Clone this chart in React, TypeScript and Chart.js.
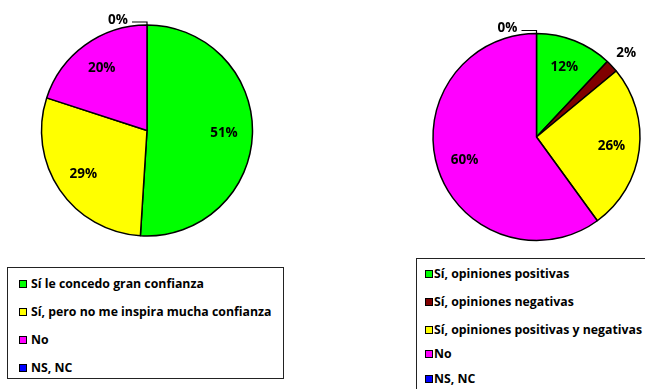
import React, { useEffect, useRef } from "react";
import { Chart, registerables } from "chart.js";

Chart.register(...registerables);

// Pregunta 1: confianza
const trustLabels = [
  "Sí le concedo gran confianza",
  "Sí, pero no me inspira mucha confianza",
  "No",
  "NS, NC",
];
const trustValues = [51, 29, 20, 0];
const trustColors = ["#00FF00", "#FFFF00", "#FF00FF", "#0000FF"];

// Pregunta 2: opiniones
const opinionLabels = [
  "Sí, opiniones positivas",
  "Sí, opiniones negativas",
  "Sí, opiniones positivas y negativas",
  "No",
  "NS, NC",
];
const opinionValues = [12, 2, 26, 60, 0];
const opinionColors = ["#00FF00", "#800000", "#FFFF00", "#FF00FF", "#0000FF"];

const FONT = "'Open Sans', sans-serif";

const sliceLabels = {
  id: "sliceLabels",
  afterDatasetsDraw(chart: any) {
    const ctx = chart.ctx;
    const meta = chart.getDatasetMeta(0);
    const data = chart.data.datasets[0].data as number[];
    ctx.save();
    ctx.font = `bold 13.5px ${FONT}`;
    ctx.fillStyle = "#000";
    ctx.strokeStyle = "#000";
    ctx.lineWidth = 1.2;
    ctx.textAlign = "center";
    ctx.textBaseline = "middle";
    meta.data.forEach((arc: any, i: number) => {
      const { x, y, startAngle, endAngle, outerRadius } = arc.getProps(
        ["x", "y", "startAngle", "endAngle", "outerRadius"],
        true
      );
      const v = data[i];
      const text = `${v}%`;
      if (v === 0) {
        const px = x + Math.cos(startAngle) * outerRadius;
        const py = y + Math.sin(startAngle) * outerRadius;
        ctx.beginPath();
        ctx.moveTo(px, py);
        ctx.lineTo(px, py - 3);
        ctx.lineTo(px - 15, py - 3);
        ctx.stroke();
        ctx.fillText(text, px - 29, py - 5);
      } else {
        const mid = (startAngle + endAngle) / 2;
        const f = v < 5 ? 1.19 : 0.73;
        ctx.fillText(
          text,
          x + Math.cos(mid) * outerRadius * f,
          y + Math.sin(mid) * outerRadius * f
        );
      }
    });
    ctx.restore();
  },
};

type PieProps = {
  labels: string[];
  values: number[];
  colors: string[];
  padding: { left: number; right: number; top: number; bottom: number };
  style: React.CSSProperties;
  width: number;
  height: number;
};

function Pie({ labels, values, colors, padding, style, width, height }: PieProps) {
  const ref = useRef<HTMLCanvasElement | null>(null);
  useEffect(() => {
    if (!ref.current) return;
    const chart = new Chart(ref.current, {
      type: "pie",
      data: {
        labels,
        datasets: [
          {
            data: values,
            backgroundColor: colors,
            borderColor: "#000",
            borderWidth: 1.5,
          },
        ],
      },
      options: {
        responsive: false,
        animation: false,
        layout: { padding },
        plugins: {
          legend: { display: false },
          tooltip: { enabled: false },
        },
      },
      plugins: [sliceLabels],
    });
    return () => chart.destroy();
  }, []);
  return (
    <div style={{ position: "absolute", width, height, ...style }}>
      <canvas ref={ref} width={width} height={height} style={{ width, height }} />
    </div>
  );
}

type LegendProps = {
  labels: string[];
  colors: string[];
  rows: number[];
  box: React.CSSProperties;
  swatchLeft: number;
  textLeft: number;
};

function Legend({ labels, colors, rows, box, swatchLeft, textLeft }: LegendProps) {
  return (
    <div
      style={{
        position: "absolute",
        border: "1px solid #222",
        boxSizing: "border-box",
        background: "#fff",
        ...box,
      }}
    >
      {labels.map((l, i) => (
        <div key={l}>
          <div
            style={{
              position: "absolute",
              left: swatchLeft,
              top: rows[i] - 4,
              width: 8,
              height: 8,
              boxSizing: "border-box",
              border: "1px solid #000",
              background: colors[i],
            }}
          />
          <div
            style={{
              position: "absolute",
              left: textLeft,
              top: rows[i] - 9,
              height: 18,
              lineHeight: "18px",
              whiteSpace: "nowrap",
              font: `bold 12.3px ${FONT}`,
              color: "#000",
            }}
          >
            {l}
          </div>
        </div>
      ))}
    </div>
  );
}

export default function App() {
  return (
    <div
      style={{
        position: "absolute",
        left: 0,
        top: 0,
        width: 645,
        height: 389,
        background: "#fff",
        overflow: "hidden",
      }}
    >
      <Pie
        labels={trustLabels}
        values={trustValues}
        colors={trustColors}
        width={300}
        height={250}
        style={{ left: 0, top: 0 }}
        padding={{ left: 40.75, right: 46.75, top: 24.25, bottom: 13.25 }}
      />
      <Pie
        labels={opinionLabels}
        values={opinionValues}
        colors={opinionColors}
        width={325}
        height={250}
        style={{ left: 320, top: 0 }}
        padding={{ left: 112.25, right: 4.25, top: 32.75, bottom: 8.75 }}
      />
      <Legend
        labels={trustLabels}
        colors={trustColors}
        rows={[15.5, 44, 72, 100]}
        box={{ left: 7, top: 267, width: 277, height: 112 }}
        swatchLeft={11}
        textLeft={23}
      />
      <Legend
        labels={opinionLabels}
        colors={opinionColors}
        rows={[14.5, 43, 71, 95, 119.5]}
        box={{ left: 416, top: 258, width: 240, height: 140 }}
        swatchLeft={8}
        textLeft={17}
      />
    </div>
  );
}
